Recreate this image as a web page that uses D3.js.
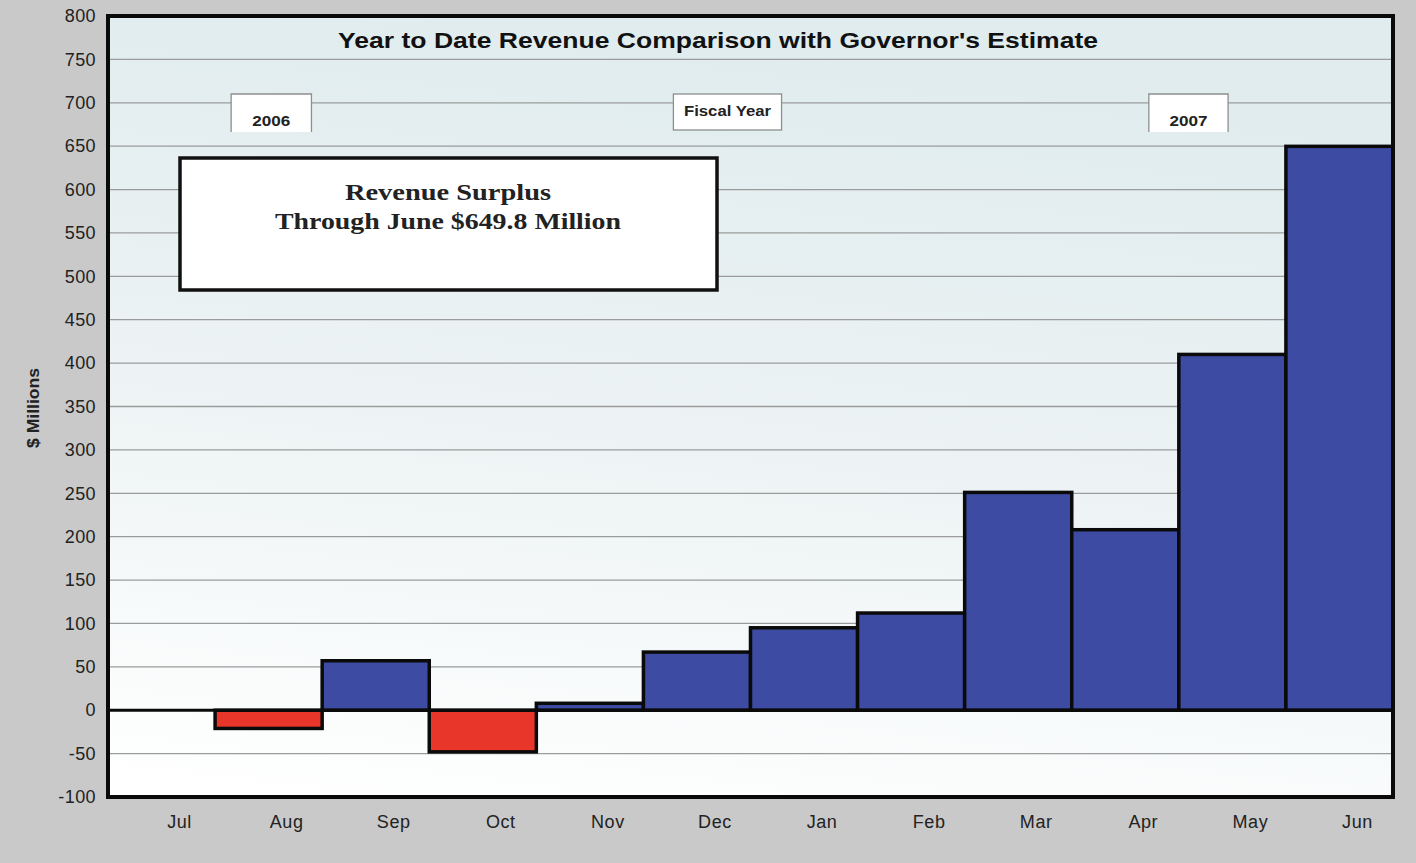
<!DOCTYPE html>
<html><head><meta charset="utf-8">
<script src="https://cdn.jsdelivr.net/npm/d3@7"></script>
<style>body{margin:0;background:#c9c9c9;} svg{display:block;}</style>
</head><body>
<svg id="c" width="1416" height="863"></svg>
<script>
const months = ["Jul","Aug","Sep","Oct","Nov","Dec","Jan","Feb","Mar","Apr","May","Jun"];
const surplus = [0, -21, 57, -48, 8, 67, 95, 112, 251, 208, 410, 649.8];
const yTicks = [-100,-50,0,50,100,150,200,250,300,350,400,450,500,550,600,650,700,750,800];
const title = "Year to Date Revenue Comparison with Governor's Estimate";
const yTitle = "$ Millions";
const tabs = [{label:"2006", from:1.15, to:1.9, open:true},{label:"Fiscal Year", from:5.28, to:6.29, open:false},{label:"2007", from:9.72, to:10.46, open:true}];
const noteLines = ["Revenue Surplus","Through June $649.8 Million"];

const svg = d3.select("#c");
const W=1416,H=863;
const m = {l:108, r:1393, t:16, b:797};
svg.append("rect").attr("width",W).attr("height",H).attr("fill","#c9c9c9");

const x = d3.scaleBand().domain(months).range([m.l,m.r]).padding(0);
const y = d3.scaleLinear().domain([-100,800]).range([m.b,m.t]);

const defs = svg.append("defs");
const g = defs.append("linearGradient").attr("id","bg").attr("x1",0.3).attr("y1",0).attr("x2",0.1).attr("y2",1);
g.append("stop").attr("offset","0%").attr("stop-color","#e0ecee");
g.append("stop").attr("offset","50%").attr("stop-color","#edf3f4");
g.append("stop").attr("offset","100%").attr("stop-color","#ffffff");
svg.append("rect").attr("x",m.l).attr("y",m.t).attr("width",m.r-m.l).attr("height",m.b-m.t).attr("fill","url(#bg)");

// grid
svg.append("g").selectAll("line").data(yTicks.filter(d=>d>-100&&d<800)).join("line")
 .attr("x1",m.l).attr("x2",m.r).attr("y1",d=>y(d)).attr("y2",d=>y(d))
 .attr("stroke","#9a9c9c").attr("stroke-width",1.3);

// y axis labels
const ya = svg.append("g").attr("transform",`translate(${m.l},0)`).call(d3.axisLeft(y).tickValues(yTicks).tickFormat(d=>String(d)).tickSize(0).tickPadding(12));
ya.select(".domain").remove();
ya.selectAll("text").attr("font-family","Liberation Sans, Arial, sans-serif").attr("font-size",18).attr("letter-spacing",0.4).attr("fill","#222");

// x axis labels
const xa = svg.append("g").attr("transform",`translate(18,${m.b})`).call(d3.axisBottom(x).tickSize(0).tickPadding(18));
xa.select(".domain").remove();
xa.selectAll("text").attr("font-family","Liberation Sans, Arial, sans-serif").attr("font-size",18).attr("letter-spacing",0.6).attr("fill","#222");

// title
svg.append("text").attr("x",718).attr("y",48).attr("text-anchor","middle")
 .attr("font-family","Liberation Sans, Arial, sans-serif").attr("font-weight","bold").attr("font-size",22)
 .attr("textLength",760).attr("lengthAdjust","spacingAndGlyphs").attr("fill","#111").text(title);

// tabs
const tabG = svg.append("g");
tabs.forEach(t=>{
  const x0 = m.l + t.from*x.bandwidth(), x1 = m.l + t.to*x.bandwidth();
  const top = 94, bot = t.open?132:130;
  tabG.append("rect").attr("x",x0).attr("y",top).attr("width",x1-x0).attr("height",bot-top).attr("fill","#ffffff");
  if(t.open){
    tabG.append("path").attr("d",`M${x0},${bot}V${top}H${x1}V${bot}`).attr("fill","none").attr("stroke","#8c8f8f").attr("stroke-width",1.3);
  } else {
    tabG.append("rect").attr("x",x0).attr("y",top).attr("width",x1-x0).attr("height",bot-top).attr("fill","none").attr("stroke","#8c8f8f").attr("stroke-width",1.3);
  }
  tabG.append("text").attr("x",(x0+x1)/2).attr("y",t.open?126:116).attr("text-anchor","middle")
   .attr("font-family","Liberation Sans, Arial, sans-serif").attr("font-weight","bold").attr("font-size",14)
   .attr("textLength",t.open?38:87).attr("lengthAdjust","spacingAndGlyphs").attr("fill","#222").text(t.label);
});

// note box
svg.append("rect").attr("x",180).attr("y",158).attr("width",537).attr("height",132).attr("fill","#fff").attr("stroke","#111").attr("stroke-width",3.5);
svg.append("text").attr("x",448).attr("y",200).attr("text-anchor","middle")
 .attr("font-family","Liberation Serif, DejaVu Serif, serif").attr("font-weight","bold").attr("font-size",24).attr("fill","#222")
 .selectAll("tspan").data(noteLines).join("tspan").attr("x",448).attr("dy",(d,i)=>i?29:0)
 .attr("textLength",(d,i)=>i?346:206).attr("lengthAdjust","spacingAndGlyphs").text(d=>d);

// bars
svg.append("g").selectAll("rect").data(months.map((mo,i)=>({mo,v:surplus[i]}))).join("rect")
 .attr("x",d=>x(d.mo)).attr("width",x.bandwidth())
 .attr("y",d=>y(Math.max(0,d.v))).attr("height",d=>Math.abs(y(d.v)-y(0)))
 .attr("fill",d=>d.v<0?"#e8372a":"#3d4ca2").attr("stroke","#0a0a0a").attr("stroke-width",3.5);

// zero line
svg.append("line").attr("x1",m.l).attr("x2",m.r).attr("y1",y(0)).attr("y2",y(0)).attr("stroke","#0a0a0a").attr("stroke-width",3);

// frame
svg.append("rect").attr("x",m.l).attr("y",m.t).attr("width",m.r-m.l).attr("height",m.b-m.t).attr("fill","none").attr("stroke","#0a0a0a").attr("stroke-width",4);

// y title
svg.append("text").attr("transform",`translate(39,408) rotate(-90)`).attr("text-anchor","middle")
 .attr("font-family","Liberation Sans, Arial, sans-serif").attr("font-weight","bold").attr("font-size",16)
 .attr("textLength",80).attr("lengthAdjust","spacingAndGlyphs").attr("fill","#222").text(yTitle);
</script>
</body></html>
